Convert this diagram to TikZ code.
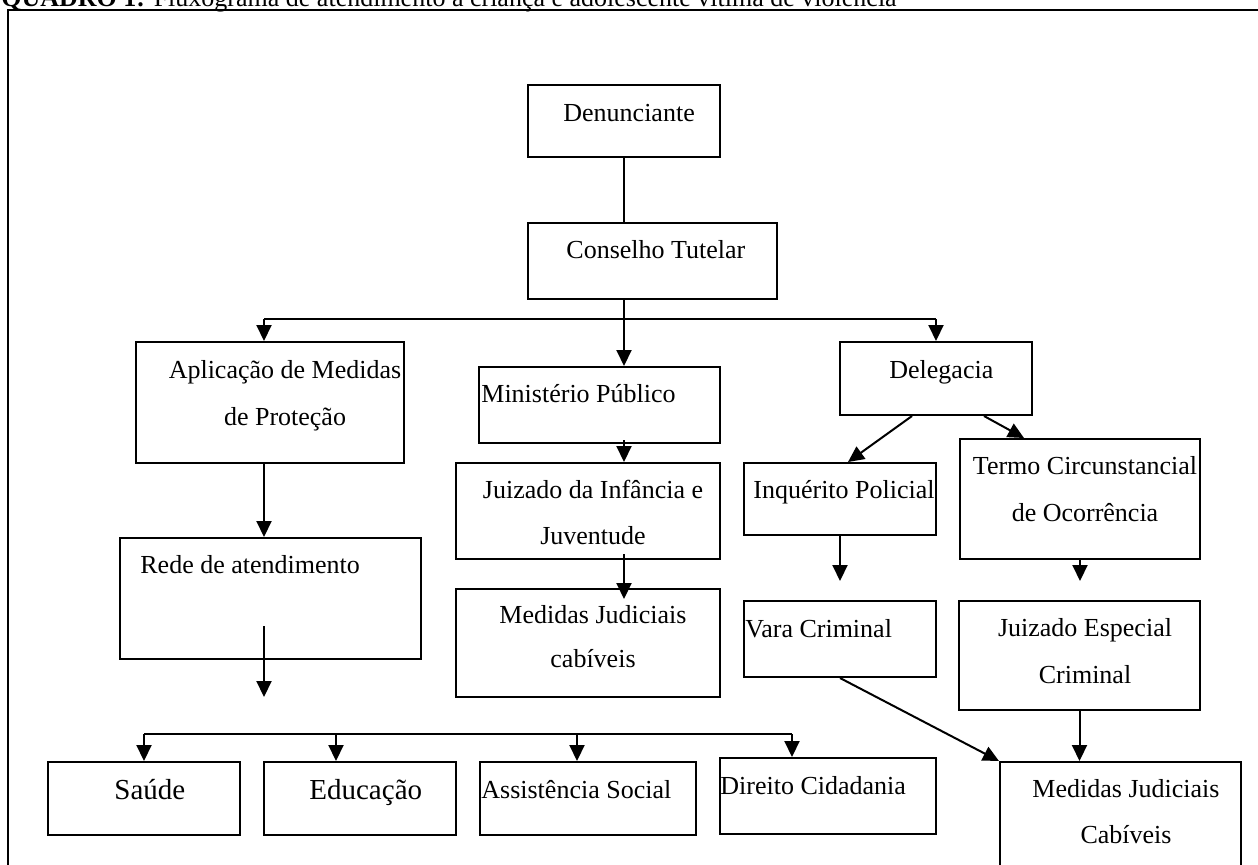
\documentclass[tikz,border=0pt]{standalone}
\usepackage{fontspec}
\setmainfont{Liberation Serif}
\usetikzlibrary{arrows.meta,fit}
\begin{document}
\begin{tikzpicture}[x=0.5pt,y=-0.5pt,
  box/.style={draw, line width=1pt, inner sep=0pt, rectangle},
  txt/.style={inner sep=0pt, anchor=base west, font=\fontsize{13}{15}\selectfont},
  ctxt/.style={inner sep=0pt, anchor=base, font=\fontsize{13}{15}\selectfont},
  bigtxt/.style={inner sep=0pt, anchor=base west, font=\fontsize{14.5}{17}\selectfont},
  conn/.style={line width=1pt},
  arr/.style={conn, -{Triangle[length=8pt,width=7.5pt]}}]
\useasboundingbox (0,0) rectangle (1258,864);
\clip (0,0) rectangle (1258,864);
\fill[white] (0,0) rectangle (1258,864);
% title and frame
\node[txt] (title) at (1,6) {\textbf{QUADRO 1:} Fluxograma de atendimento a criança e adolescente vítima de violência};
\draw[line width=1pt] (8,10) rectangle (1290,900);
% boxes
\node[box, fit={(528,85) (720,157)}] (den) {};
\node[box, fit={(528,223) (777,299)}] (con) {};
\node[box, fit={(136,342) (404,463)}] (apl) {};
\node[box, fit={(479,367) (720,443)}] (mp) {};
\node[box, fit={(456,463) (720,559)}] (jij) {};
\node[box, fit={(456,589) (720,697)}] (mjm) {};
\node[box, fit={(120,538) (421,659)}] (rede) {};
\node[box, fit={(840,342) (1032,415)}] (del) {};
\node[box, fit={(744,463) (936,535)}] (inq) {};
\node[box, fit={(960,439) (1200,559)}] (termo) {};
\node[box, fit={(744,601) (936,677)}] (vara) {};
\node[box, fit={(959,601) (1200,710)}] (jec) {};
\node[box, fit={(1000,762) (1241,900)}] (mjr) {};
\node[box, fit={(48,762) (240,835)}] (saude) {};
\node[box, fit={(264,762) (456,835)}] (edu) {};
\node[box, fit={(480,762) (696,835)}] (asst) {};
\node[box, fit={(720,758) (936,834)}] (dir) {};
% texts
\node[txt] (denT) at (563,121) {Denunciante};
\node[txt] (conT) at (566,258) {Conselho Tutelar};
\node[ctxt] (aplT1) at (285,378) {Aplicação de Medidas};
\node[ctxt] (aplT2) at (285,425) {de Proteção};
\node[txt] (mpT) at (481,402) {Ministério Público};
\node[ctxt] (jijT1) at (593,498) {Juizado da Infância e};
\node[ctxt] (jijT2) at (593,544) {Juventude};
\node[ctxt] (mjmT1) at (593,623) {Medidas Judiciais};
\node[ctxt] (mjmT2) at (593,667) {cabíveis};
\node[txt] (redeT) at (140,573) {Rede de atendimento};
\node[txt] (delT) at (889,378) {Delegacia};
\node[txt] (inqT) at (753,498) {Inquérito Policial};
\node[ctxt] (termoT1) at (1085,474) {Termo Circunstancial};
\node[ctxt] (termoT2) at (1085,521) {de Ocorrência};
\node[txt] (varaT) at (745,637) {Vara Criminal};
\node[ctxt] (jecT1) at (1085,636) {Juizado Especial};
\node[ctxt] (jecT2) at (1085,683) {Criminal};
\node[ctxt] (mjrT1) at (1126,797) {Medidas Judiciais};
\node[ctxt] (mjrT2) at (1126,843) {Cabíveis};
\node[bigtxt] (saudeT) at (114,799) {Saúde};
\node[bigtxt] (eduT) at (309,799) {Educação};
\node[txt] (asstT) at (481,798) {Assistência Social};
\node[txt] (dirT) at (720,794) {Direito Cidadania};
% connectors
\coordinate (busL) at (264,319);
\coordinate (busR) at (936,319);
\coordinate (redeEnd) at (264,697);
\coordinate (b2L) at (144,734);
\coordinate (b2E) at (336,734);
\coordinate (b2A) at (577,734);
\coordinate (b2R) at (792,734);
\draw[conn] (den.south) -- (den.south |- con.north);
\draw[conn] (busL) -- (busR);
\draw[arr] (den.south |- con.south) -- (den.south |- mp.north);
\draw[arr] (busL) -- (busL |- apl.north);
\draw[arr] (busR) -- (del.north);
\draw[arr] ([yshift=2pt]den.south |- mp.south) -- (den.south |- jij.north);
\draw[arr] ([yshift=3pt]den.south |- jij.south) -- ([yshift=-5.5pt]den.south |- mjm.north);
\draw[arr] (busL |- apl.south) -- (busL |- rede.north);
\draw[arr] ([yshift=17pt]busL |- rede.south) -- (redeEnd);
\draw[conn] (b2L) -- (b2R);
\draw[arr] (b2L) -- (saude.north);
\draw[arr] (b2E) -- (b2E |- edu.north);
\draw[arr] (b2A) -- (b2A |- asst.north);
\draw[arr] (b2R) -- (b2R |- dir.north);
\draw[arr] ([xshift=-12pt]del.south) -- ([xshift=4pt]inq.north);
\draw[arr] ([xshift=24pt]del.south) -- ([xshift=-28pt]termo.north);
\draw[arr] (inq.south) -- ([yshift=9.5pt]vara.north);
\draw[arr] (termo.south) -- ([yshift=9.5pt]termo.south |- jec.north);
\draw[arr] (vara.south) -- (mjr.north west);
\draw[arr] (jec.south) -- (jec.south |- mjr.north);
\end{tikzpicture}
\end{document}
